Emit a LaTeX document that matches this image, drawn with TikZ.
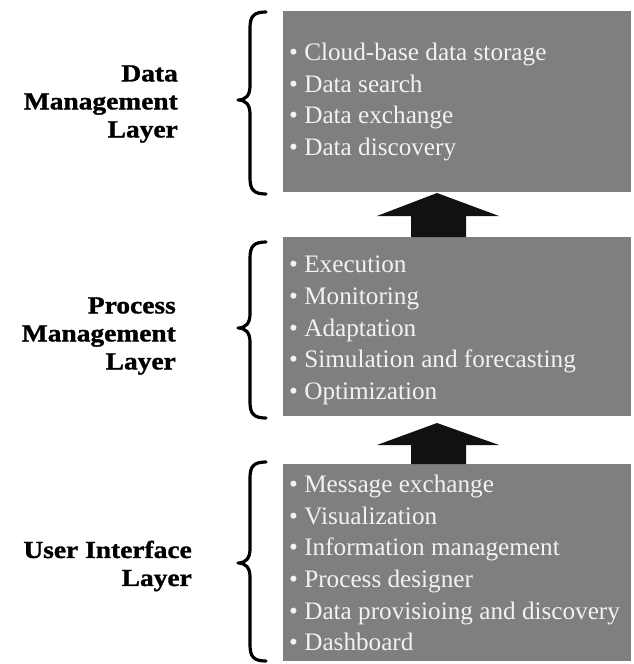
\documentclass[tikz,border=0pt]{standalone}
\usepackage{fontspec}
\setmainfont{Liberation Serif}
\newfontfamily\labfont[FakeStretch=1.12,FakeBold=1.2]{Liberation Serif}
\definecolor{boxgray}{HTML}{7F7F7F}
\definecolor{txtgray}{HTML}{F2F2F2}
\definecolor{arrblack}{HTML}{111111}
\newcommand\layerbrace[3]{%
  \draw[bracestyle] (266,#1) .. controls (254,#1) and (250,#1+4) .. (250,#1+16)
    -- (250,#2-14) .. controls (250,#2-5) and (246,#2) .. (238,#2)
    .. controls (246,#2) and (250,#2+5) .. (250,#2+14)
    -- (250,#3-16) .. controls (250,#3-4) and (254,#3) .. (266,#3);}
\begin{document}
\begin{tikzpicture}[x=1pt,y=-1pt,
  layerbox/.style={rectangle, fill=boxgray, draw=none, minimum width=348pt, inner sep=0pt},
  itemtext/.style={anchor=north west, inner sep=0pt, align=left, text=txtgray,
    font=\fontsize{25.2}{31.6}\selectfont},
  layerlabel/.style={anchor=east, inner sep=0pt, align=right,
    font=\labfont\bfseries\fontsize{24.5}{28}\selectfont},
  bracestyle/.style={draw=black, line width=3.2pt, line cap=round, line join=round},
  blockarrow/.style={fill=arrblack, draw=none}]
\useasboundingbox (0,0) rectangle (634,664);

% boxes
\node[layerbox, minimum height=181pt] (dm) at (457,101.5) {};
\node[layerbox, minimum height=179pt] (pm) at (457,326.5) {};
\node[layerbox, minimum height=197pt] (ui) at (457,562.5) {};

% item lists
\node[itemtext] (dmtext) at (289,43) {\textbullet\ Cloud-base data storage\\ \textbullet\ Data search\\ \textbullet\ Data exchange\\ \textbullet\ Data discovery};
\node[itemtext] (pmtext) at (289,256) {\textbullet\ Execution\\ \textbullet\ Monitoring\\ \textbullet\ Adaptation\\ \textbullet\ Simulation and forecasting\\ \textbullet\ Optimization};
\node[itemtext] (uitext) at (289,475) {\textbullet\ Message exchange\\ \textbullet\ Visualization\\ \textbullet\ Information management\\ \textbullet\ Process designer\\ \textbullet\ Data provisioing and discovery\\ \textbullet\ Dashboard};

% labels
\node[layerlabel] (dmlabel) at (178,104) {Data\\ Management\\ Layer};
\node[layerlabel] (pmlabel) at (176,336) {Process\\ Management\\ Layer};
\node[layerlabel] (uilabel) at (192,566) {User Interface\\ Layer};

% braces
\layerbrace{12}{100}{194}
\layerbrace{242}{328}{418}
\layerbrace{462}{563}{661}

% block arrows
\coordinate (a1tip) at (437,193);
\coordinate (a2tip) at (437,423);
\fill[blockarrow] (a1tip) -- (499,216) -- (466,216) -- (466,237) -- (411,237) -- (411,216) -- (377,216) -- cycle;
\fill[blockarrow] (a2tip) -- (499,445) -- (466,445) -- (466,464) -- (411,464) -- (411,445) -- (377,445) -- cycle;
\end{tikzpicture}
\end{document}
